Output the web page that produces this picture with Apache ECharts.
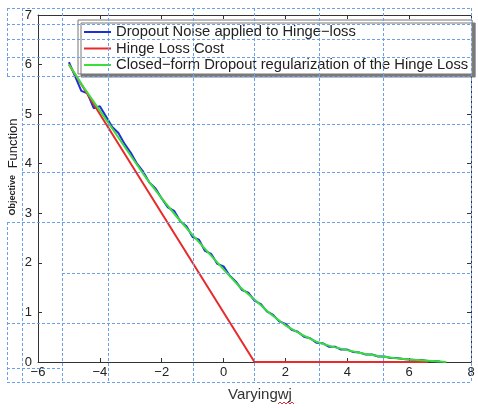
<!DOCTYPE html>
<html><head><meta charset="utf-8">
<script src="https://cdn.jsdelivr.net/npm/echarts@6/dist/echarts.min.js"></script>
<style>html,body{margin:0;padding:0;background:#fff}#c{width:478px;height:408px}</style>
</head><body><div id="c"></div>
<script>
const seriesNames = ['Dropout Noise applied to Hinge\u2212loss', 'Hinge Loss Cost', 'Closed\u2212form Dropout regularization of the Hinge Loss'];
const xAxisTitle = 'Varyingwj';
const yAxisTitleA = 'Objective';
const yAxisTitleB = 'Function';

const hingeX = [-5, 1, 6.6];
const hingeY = [6, 0, 0];

const closedX = [-5, -4.5, -4, -3.5, -3, -2.5, -2, -1.5, -1, -0.5, 0, 0.5, 1, 1.5, 2, 2.5, 3, 3.5, 4, 4.5, 5, 5.5, 6, 6.5, 7, 7.2];
const closedY = [6.0, 5.52, 5.07, 4.62, 4.16, 3.71, 3.30, 2.92, 2.56, 2.21, 1.87, 1.53, 1.26, 0.98, 0.74, 0.56, 0.41, 0.31, 0.24, 0.17, 0.12, 0.08, 0.05, 0.03, 0.01, 0.0];

const noiseX = [-5.0, -4.8, -4.6, -4.4, -4.2, -4.0, -3.8, -3.6, -3.4, -3.2, -3.0, -2.8, -2.6, -2.4, -2.2, -2.0, -1.8, -1.6, -1.4, -1.2, -1.0, -0.8, -0.6, -0.4, -0.2, 0.0, 0.2, 0.4, 0.6, 0.8, 1.0, 1.2, 1.4, 1.6, 1.8, 2.0, 2.2, 2.4, 2.6, 2.8, 3.0, 3.2, 3.4, 3.6, 3.8, 4.0, 4.2, 4.4, 4.6, 4.8, 5.0, 5.2, 5.4, 5.6, 5.8, 6.0, 6.2, 6.4, 6.6, 6.8, 7.0];
const noiseY = [6.05, 5.76, 5.47, 5.42, 5.12, 5.16, 4.95, 4.74, 4.62, 4.40, 4.22, 4.00, 3.84, 3.62, 3.50, 3.30, 3.12, 3.05, 2.84, 2.74, 2.52, 2.47, 2.24, 2.18, 1.98, 1.93, 1.74, 1.62, 1.45, 1.40, 1.24, 1.17, 1.02, 0.95, 0.82, 0.77, 0.65, 0.61, 0.51, 0.48, 0.39, 0.38, 0.31, 0.31, 0.25, 0.25, 0.20, 0.19, 0.15, 0.15, 0.11, 0.11, 0.08, 0.08, 0.06, 0.05, 0.04, 0.04, 0.02, 0.02, 0.01];

const xRange = [-6, 8, 2];
const yRange = [0, 7, 1];

const zip = (xs, ys) => xs.map((x, i) => [x, ys[i]]);
const fmt = v => v < 0 ? '\u2212' + (-v) : String(v);

// page layout (document table) dashed guides
const guideH = [[7,8,471],[7,24,471],[7,39,471],[7,57,471],[7,76,471],[22,124,471],[22,172,471],[7,222,471],[62,273,471],[7,323,471],[7,368,62],[7,382,471]];
const guideV = [[7,8,76],[7,222,382],[22,8,382],[62,8,382],[108,8,382],[193,8,382],[254,8,382],[319,8,382],[383,8,382],[471,8,382]];
const guideStyle = {stroke:'#6d9ee8', lineWidth:1, lineDash:[3,2]};
const graphics = [];
guideH.forEach(g => graphics.push({type:'line', z:100, silent:true, shape:{x1:g[0], y1:g[1]+0.5, x2:g[2], y2:g[1]+0.5}, style:guideStyle}));
guideV.forEach(g => graphics.push({type:'line', z:100, silent:true, shape:{x1:g[0]+0.5, y1:g[1], x2:g[0]+0.5, y2:g[2]}, style:guideStyle}));
graphics.push({type:'text', x:260, y:395, z:50, style:{text:xAxisTitle, font:'15px "Liberation Sans", Arial, sans-serif', fill:'#333', align:'center', verticalAlign:'middle'}});
graphics.push({type:'polyline', z:50, shape:{points:[[278,404],[280,402],[282,404],[284,402],[286,404],[288,402],[290,404],[292,402],[294,404]]}, style:{stroke:'#e03030', lineWidth:1, fill:null}});
graphics.push({type:'text', x:13, y:167, rotation:Math.PI/2, z:50, style:{text:'{a|' + yAxisTitleA + '}  {b|' + yAxisTitleB + '}', rich:{a:{fontSize:9, fontWeight:'bold', fill:'#222', fontFamily:'Liberation Sans'}, b:{fontSize:13, fill:'#222', fontFamily:'Liberation Sans'}}, align:'center', verticalAlign:'middle'}});

const axisLine = {show:true, onZero:false, lineStyle:{color:'#333', width:1}};
const axisTick = {show:true, inside:true, length:4, lineStyle:{color:'#333'}};
const lbl = {fontSize:13, color:'#222', fontFamily:'Liberation Sans, Arial, sans-serif', formatter:fmt, showMinLabel:true, showMaxLabel:true};

const chart = echarts.init(document.getElementById('c'), null, {renderer:'canvas'});
chart.setOption({
  animation:false,
  backgroundColor:'#fff',
  grid:{left:38, right:7, top:15, bottom:46, containLabel:false},
  legend:{
    orient:'vertical', left:78, top:20,
    data:seriesNames,
    icon:'rect',
    itemWidth:27, itemHeight:2, itemGap:0.5,
    padding:[4, 4, 1, 6],
    backgroundColor:'#fff', borderColor:'#777', borderWidth:1,
    shadowColor:'#7a7a7a', shadowBlur:0, shadowOffsetX:3, shadowOffsetY:3,
    textStyle:{fontSize:14.75, lineHeight:16, height:16, color:'#222', fontFamily:'Liberation Sans, Arial, sans-serif'}
  },
  xAxis:[
    {type:'value', min:xRange[0], max:xRange[1], interval:xRange[2], position:'bottom', axisLine, axisTick, axisLabel:Object.assign({margin:4}, lbl), splitLine:{show:false}},
    {type:'value', min:xRange[0], max:xRange[1], interval:xRange[2], position:'top', axisLine, axisTick, axisLabel:{show:false}, splitLine:{show:false}}
  ],
  yAxis:[
    {type:'value', min:yRange[0], max:yRange[1], interval:yRange[2], position:'left', axisLine, axisTick, axisLabel:Object.assign({margin:6}, lbl), splitLine:{show:false}},
    {type:'value', min:yRange[0], max:yRange[1], interval:yRange[2], position:'right', axisLine, axisTick, axisLabel:{show:false}, splitLine:{show:false}}
  ],
  series:[
    {name:seriesNames[0], type:'line', symbol:'none', data:zip(noiseX, noiseY), lineStyle:{color:'#1f2fd8', width:2}, itemStyle:{color:'#1f2fd8'}},
    {name:seriesNames[1], type:'line', symbol:'none', data:zip(hingeX, hingeY), lineStyle:{color:'#e82a2a', width:2}, itemStyle:{color:'#e82a2a'}},
    {name:seriesNames[2], type:'line', symbol:'none', data:zip(closedX, closedY), lineStyle:{color:'#3ade3a', width:2}, itemStyle:{color:'#3ade3a'}}
  ],
  graphic:graphics
});
</script></body></html>
